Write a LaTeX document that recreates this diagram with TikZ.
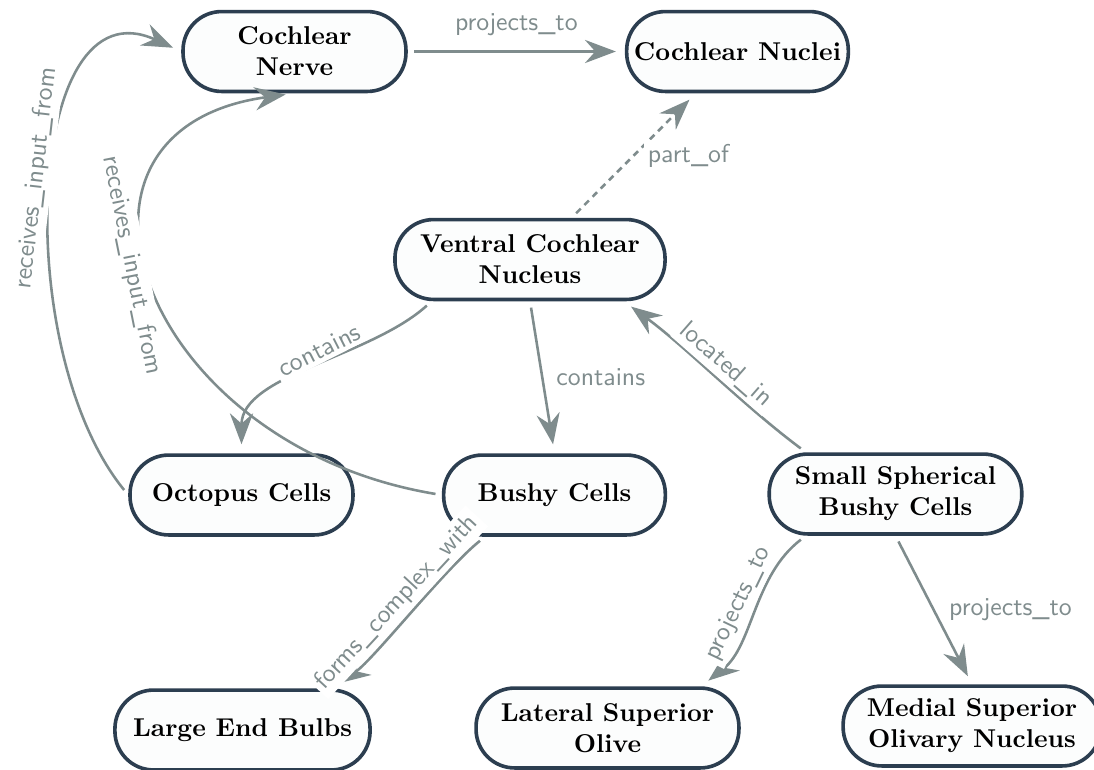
\documentclass[tikz,border=0pt]{standalone}
\usetikzlibrary{arrows.meta}
\definecolor{edgegray}{HTML}{7F8C8D}
\definecolor{nodeborder}{HTML}{2C3E50}
\definecolor{nodefill}{HTML}{FCFDFD}
\begin{document}
\begin{tikzpicture}[x=0.388pt, y=-0.388pt,
  concept/.style={draw=nodeborder, fill=nodefill, line width=1.4pt, rounded corners=15pt,
    minimum height=31pt, align=center, font=\bfseries, inner sep=2pt},
  rel/.style={draw=edgegray, line width=1pt, -{Stealth[length=12pt,width=9pt,inset=4pt]},
    shorten <=2.5pt, shorten >=3.5pt},
  lbl/.style={font=\sffamily, text=edgegray, fill=white, inner sep=1.5pt},
]
\useasboundingbox (0,0) rectangle (1094,769);

\node[concept, minimum width=86.5pt] (cn) at (294.5,51.5) {Cochlear\\Nerve};
\node[concept, minimum width=86pt] (cnu) at (737.5,51.5) {Cochlear Nuclei};
\node[concept, minimum width=104.8pt] (vcn) at (530,259.5) {Ventral Cochlear\\Nucleus};
\node[concept, minimum width=86.5pt] (oct) at (241.5,495) {Octopus Cells};
\node[concept, minimum width=86pt] (bushy) at (554.5,495) {Bushy Cells};
\node[concept, minimum width=98pt] (ssbc) at (895.5,494) {Small Spherical\\Bushy Cells};
\node[concept, minimum width=99pt] (leb) at (242.5,730) {Large End Bulbs};
\node[concept, minimum width=102pt] (lso) at (607.5,728) {Lateral Superior\\Olive};
\node[concept, minimum width=100pt] (mso) at (972,726) {Medial Superior\\Olivary Nucleus};

\draw[rel] (cn.east) -- node[lbl, above=4pt] {projects\_to} (cnu.west);
\draw[rel, dash pattern=on 2.5pt off 2pt] (vcn) -- node[lbl, right=3.5pt] {part\_of} (cnu);
\draw[rel] (oct.west) .. controls (10,350) and (25,-20) .. node[lbl, pos=0.52, sloped, above] {receives\_input\_from} (cn.west);
\draw[rel] (bushy.west) .. controls (140,445) and (30,130) .. node[lbl, pos=0.55, sloped, below] {receives\_input\_from} (cn.south);
\draw[rel] (vcn.203) .. controls (370,357) and (241.5,375) .. node[lbl, pos=0.45, sloped, above] {contains} (oct.north);
\draw[rel] (vcn.south) -- node[lbl, right=3.5pt] {contains} (bushy.north);
\draw[rel] (ssbc.155) .. controls (745,407) and (686,347) .. node[lbl, midway, sloped, above] {located\_in} (vcn.336);
\draw[rel] (bushy.211) .. controls (444.7,569) and (374,659) .. node[lbl, midway, sloped, above] {forms\_complex\_with} (leb.25);
\draw[rel] (ssbc.205) .. controls (753.7,575.7) and (752.8,645.4) .. node[lbl, midway, sloped, above] {projects\_to} (lso.24);
\draw[rel] (ssbc.south) -- node[lbl, right=4pt] {projects\_to} (mso.north);
\end{tikzpicture}
\end{document}
